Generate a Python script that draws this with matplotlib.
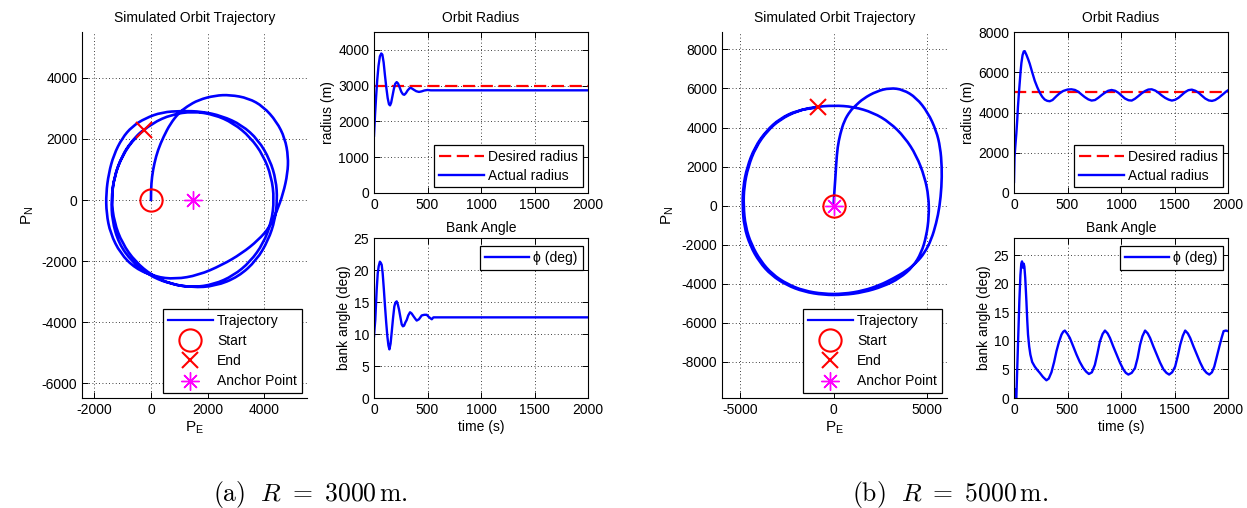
import matplotlib
matplotlib.use("Agg")
import matplotlib.pyplot as plt
from matplotlib.path import Path
from matplotlib.patches import PathPatch

plt.rcParams['font.family'] = ['Liberation Sans', 'DejaVu Sans']
plt.rcParams['font.size'] = 10
plt.rcParams['mathtext.fontset'] = 'cm'
plt.rcParams['axes.unicode_minus'] = False

BLUE = '#0000ff'
RED = '#ff0000'
MAGENTA = '#ff00ff'

# ---- case (a): R = 3000 m ----
traj_a_e = [0, 0, 35, 118, 247, 447, 682, 976, 1270, 1682, 2270, 2799, 3446, 3975,
            4445, 4739, 4857, 4833, 4680, 4445, 4210, 3798, 3210, 2505, 1682, 858,
            153, -553, -1082, -1435, -1576, -1588, -1494, -1317, -1023, -670, -200,
            388, 1094, 1799, 2505, 3210, 3798, 4210, 4422, 4469, 4386, 4151, 3740,
            3093, 2270, 1446, 623, -82, -670, -1141, -1376, -1400, -1302, -1014,
            -556, 40, 735, 1480, 2225, 2920, 3516, 3974, 4262, 4360, 4262, 3974,
            3516, 2920, 2225, 1480, 735, 40, -556, -1014, -1302, -1400, -1302,
            -1014, -726, -371, -250]
traj_a_n = [0, 328, 765, 1202, 1640, 2077, 2492, 2842, 3060, 3279, 3421, 3443, 3334,
            3060, 2569, 2022, 1421, 874, 219, -383, -874, -1312, -1749, -2131, -2459,
            -2590, -2514, -2241, -1749, -1093, -437, 219, 874, 1476, 2022, 2405, 2678,
            2875, 2918, 2897, 2754, 2459, 1967, 1312, 656, 0, -656, -1312, -1967,
            -2514, -2820, -2864, -2733, -2459, -2022, -1421, -656, 20, 765, 1460,
            2056, 2514, 2802, 2900, 2802, 2514, 2056, 1460, 765, 20, -725, -1420,
            -2016, -2474, -2762, -2860, -2762, -2474, -2016, -1420, -725, 20, 765,
            1460, 1871, 2226, 2280]
anchor_a = (1500, 0)

rad_a_t = [0, 10, 20, 30, 42, 55, 68, 78, 90, 102, 115, 128, 140, 150, 160, 172,
           185, 198, 212, 225, 240, 255, 270, 283, 298, 315, 335, 350, 370, 395,
           420, 445, 470, 500, 530, 2000]
rad_a_r = [1600, 2200, 2700, 3150, 3550, 3820, 3900, 3870, 3650, 3300, 2950, 2650,
           2480, 2450, 2520, 2700, 2900, 3050, 3100, 3060, 2950, 2830, 2760, 2745,
           2790, 2870, 2935, 2930, 2890, 2845, 2825, 2840, 2865, 2880, 2870, 2870]
rad_a_des = 3000

bank_a_t = [0, 6, 12, 25, 35, 44, 55, 64, 72, 81, 92, 103, 114, 125, 135, 144, 155,
            165, 178, 190, 200, 212, 223, 234, 247, 259, 270, 281, 293, 306, 320,
            337, 352, 368, 385, 399, 420, 446, 470, 493, 510, 524, 540, 555, 2000]
bank_a_phi = [9.6, 11, 12.2, 16.9, 19.5, 20.6, 21.3, 21.1, 20.8, 19.5, 17, 14.3,
              11.8, 9.6, 8.2, 7.6, 8.5, 10.2, 12.5, 14.3, 14.9, 15.1, 14.6, 13.8,
              12.6, 11.5, 11.2, 11.3, 11.8, 12.2, 12.9, 13.4, 13.2, 12.8, 12.4,
              12.1, 12.3, 12.9, 13.0, 13.0, 12.7, 12.5, 12.3, 12.6, 12.6]

# ---- case (b): R = 5000 m ----
traj_b_e = [0, 35, 88, 141, 212, 353, 565, 884, 1149, 1590, 2297, 3004, 3711, 4418,
            5036, 5478, 5690, 5778, 5760, 5654, 5478, 5213, 4859, 4418, 3887, 3181,
            2474, 1590, 530, -530, -1590, -2474, -3269, -3887, -4382, -4700, -4806,
            -4771, -4559, -4152, -3534, -2827, -1944, -1060, 0, 1060, 2120, 3004,
            3799, 4418, 4859, 5071, 5089, 4948, 4682, 4241, 3534, 2651, 1590, 530,
            -530, -1590, -2509, -3322, -3958, -4453, -4771, -4859, -4824, -4612,
            -4205, -3587, -2863, -1944, -848]
traj_b_n = [0, 625, 1300, 2144, 2988, 3663, 4338, 4845, 5098, 5486, 5857, 6026, 5942,
            5520, 4760, 3832, 2988, 1975, 962, -51, -895, -1739, -2414, -2920, -3342,
            -3730, -4068, -4355, -4524, -4524, -4355, -4017, -3511, -2836, -1992,
            -1063, 0, 962, 1975, 2988, 3832, 4423, 4845, 5047, 5132, 5064, 4760,
            4254, 3494, 2566, 1469, 456, -557, -1570, -2414, -3123, -3714, -4136,
            -4439, -4575, -4575, -4406, -4068, -3562, -2886, -2042, -1063, 0, 962,
            1975, 2988, 3832, 4456, 4878, 5030]
anchor_b = (0, 0)

rad_b_t = [0, 5, 12, 18, 22, 30, 37, 45, 53, 61, 69, 80, 91, 100, 116, 132, 147,
           170, 194, 218, 241, 264, 287, 310, 334, 360, 397, 428, 459, 500, 537,
           570, 600, 630, 662, 695, 725, 757, 787, 820, 850, 880, 912, 945, 975,
           1005, 1037, 1070, 1100, 1130, 1162, 1195, 1225, 1255, 1287, 1320, 1350,
           1380, 1412, 1445, 1475, 1505, 1537, 1570, 1600, 1630, 1662, 1695, 1725,
           1755, 1787, 1820, 1850, 1880, 1912, 1940, 1959, 1980, 2000]
rad_b_r = [549, 1800, 2295, 2700, 2960, 3600, 4290, 4900, 5455, 6000, 6452, 6850,
           7034, 7050, 6868, 6650, 6424, 6000, 5576, 5250, 4983, 4780, 4644, 4580,
           4559, 4620, 4814, 4960, 5068, 5140, 5153, 5120, 5034, 4900, 4763, 4650,
           4593, 4620, 4729, 4870, 4983, 5080, 5119, 5080, 4983, 4840, 4695, 4610,
           4593, 4680, 4814, 4960, 5068, 5140, 5153, 5090, 4983, 4850, 4729, 4640,
           4593, 4630, 4729, 4880, 5017, 5110, 5136, 5080, 4983, 4840, 4695, 4600,
           4576, 4620, 4729, 4850, 4932, 5030, 5102]
rad_b_des = 5000

bank_b_t = [0, 4, 8, 12, 16, 22, 30, 40, 50, 60, 68, 75, 80, 85, 91, 97, 105, 116,
            124, 131, 142, 153, 170, 194, 218, 241, 270, 303, 325, 350, 375, 397,
            420, 444, 460, 475, 500, 522, 550, 584, 615, 647, 675, 700, 728, 756,
            780, 803, 828, 850, 875, 897, 928, 959, 990, 1022, 1045, 1069, 1100,
            1131, 1155, 1178, 1200, 1225, 1250, 1272, 1303, 1334, 1365, 1397, 1425,
            1450, 1478, 1506, 1530, 1553, 1578, 1600, 1625, 1647, 1678, 1709, 1740,
            1772, 1800, 1825, 1850, 1872, 1895, 1919, 1940, 1959, 1980, 2000]
bank_b_phi = [0, 1.6, 0.8, 0.2, 0, 0, 5, 11, 17, 21.5, 23.5, 23.9, 23.3, 22.8, 23.5,
              23.0, 21, 16.9, 13.5, 11.1, 9, 7.6, 6.3, 5.5, 4.9, 4.4, 3.7, 3.1, 3.4,
              4.5, 6.3, 8.2, 9.8, 11.1, 11.6, 11.8, 11.2, 10.5, 9.2, 7.6, 6.3, 5.25,
              4.6, 4.2, 4.5, 5.8, 7.8, 9.9, 11.2, 11.8, 11.3, 10.5, 9.0, 7.6, 6.2,
              5.0, 4.4, 4.1, 4.4, 5.25, 7.0, 9.3, 10.8, 11.8, 11.3, 10.5, 9.0, 7.6,
              6.2, 5.0, 4.4, 4.1, 4.5, 5.5, 7.3, 9.3, 10.9, 11.8, 11.3, 10.5, 9.0,
              7.6, 6.2, 5.0, 4.4, 4.1, 4.5, 5.5, 7.2, 9.0, 10.5, 11.7, 11.8, 11.7]

W, H = 1247, 508


def px_axes(fig, left, right, top, bottom):
    # axes placed by pixel edges
    return fig.add_axes([left / W, 1 - bottom / H, (right - left) / W, (bottom - top) / H])


def smooth_path(xs, ys):
    # quadratic bezier through the waypoints (waypoints act as control points)
    pts = list(zip(xs, ys))
    verts = [pts[0]]
    codes = [Path.MOVETO]
    for i in range(1, len(pts) - 1):
        mid = ((pts[i][0] + pts[i + 1][0]) / 2, (pts[i][1] + pts[i + 1][1]) / 2)
        verts += [pts[i], mid]
        codes += [Path.CURVE3, Path.CURVE3]
    verts.append(pts[-1])
    codes.append(Path.LINETO)
    return Path(verts, codes)


def matlab_style(ax, box=True):
    ax.grid(True, color='black', linestyle=(0, (1, 3)), linewidth=0.6)
    ax.set_axisbelow(True)
    ax.tick_params(direction='in', length=4, width=0.7, top=box, right=box, labelsize=10)
    for side in ['left', 'bottom', 'top', 'right']:
        ax.spines[side].set_linewidth(0.8)
    if not box:
        ax.spines['top'].set_visible(False)
        ax.spines['right'].set_visible(False)


def legend_box(ax, **kw):
    leg = ax.legend(fontsize=10, fancybox=False, framealpha=1, edgecolor='black',
                    borderaxespad=0, handlelength=3.2, handletextpad=0.3,
                    borderpad=0.35, **kw)
    leg.get_frame().set_linewidth(0.9)
    return leg


def draw_case(fig, x0, tr_e, tr_n, anchor, xlim, ylim, xticks, yticks,
              rt, rr, rdes, rylim, rticks, bt, bphi, bylim, bticks, caption):
    # trajectory
    ax = px_axes(fig, x0 + 82, x0 + 307, 32, 398)
    matlab_style(ax, box=False)
    ax.add_patch(PathPatch(smooth_path(tr_e, tr_n), fill=False, edgecolor=BLUE,
                           lw=1.9, joinstyle='round', capstyle='round'))
    ax.plot([], [], color=BLUE, lw=1.6, label='Trajectory')
    ax.plot(tr_e[0], tr_n[0], 'o', mfc='none', mec=RED, mew=1.5, ms=16, label='Start')
    ax.plot(tr_e[-1], tr_n[-1], 'x', color=RED, mew=1.5, ms=12, label='End')
    ax.plot(anchor[0], anchor[1], marker=(8, 2, 0), color=MAGENTA, mew=1.0, ms=13,
            ls='none', label='Anchor Point')
    ax.set_xlim(xlim)
    ax.set_ylim(ylim)
    ax.set_xticks(xticks)
    ax.set_yticks(yticks)
    ax.set_title('Simulated Orbit Trajectory', fontsize=10, pad=7)
    ax.set_xlabel(r'$\mathregular{P_E}$', fontsize=11, labelpad=2)
    ax.set_ylabel(r'$\mathregular{P_N}$', fontsize=11, labelpad=4)
    legend_box(ax, loc='lower right', bbox_to_anchor=(0.976, 0.013), numpoints=1,
               labelspacing=0.45)

    # orbit radius
    ax = px_axes(fig, x0 + 374, x0 + 588, 32, 193)
    matlab_style(ax)
    ax.axhline(rdes, color=RED, lw=1.6, ls=(0, (5.5, 2.5)), label='Desired radius')
    ax.plot(rt, rr, color=BLUE, lw=1.7, label='Actual radius')
    ax.set_xlim(0, 2000)
    ax.set_ylim(rylim)
    ax.set_xticks([0, 500, 1000, 1500, 2000])
    ax.set_yticks(rticks)
    ax.set_title('Orbit Radius', fontsize=10, pad=7)
    ax.set_ylabel('radius (m)', fontsize=10, labelpad=2)
    legend_box(ax, loc='lower right', bbox_to_anchor=(0.975, 0.035), labelspacing=0.3)

    # bank angle
    ax = px_axes(fig, x0 + 374, x0 + 588, 238, 398)
    matlab_style(ax)
    ax.plot(bt, bphi, color=BLUE, lw=1.7, label='ϕ (deg)')
    ax.set_xlim(0, 2000)
    ax.set_ylim(bylim)
    ax.set_xticks([0, 500, 1000, 1500, 2000])
    ax.set_yticks(bticks)
    ax.set_title('Bank Angle', fontsize=10, pad=4)
    ax.set_xlabel('time (s)', fontsize=10, labelpad=2)
    ax.set_ylabel('bank angle (deg)', fontsize=10, labelpad=2)
    legend_box(ax, loc='upper right', bbox_to_anchor=(0.975, 0.95))

    fig.text((x0 + 310) / W, 1 - 501 / H, caption, ha='center', va='baseline', fontsize=18.5)


fig = plt.figure(figsize=(W / 100, H / 100), dpi=100)

draw_case(fig, 0, traj_a_e, traj_a_n, anchor_a, (-2440, 5520), (-6480, 5500),
          [-2000, 0, 2000, 4000], [-6000, -4000, -2000, 0, 2000, 4000],
          rad_a_t, rad_a_r, rad_a_des, (0, 4500), [0, 1000, 2000, 3000, 4000],
          bank_a_t, bank_a_phi, (0, 25), [0, 5, 10, 15, 20, 25],
          r'$\mathrm{(a)}\ \ R\ =\ 3000\,\mathrm{m.}$')

draw_case(fig, 640, traj_b_e, traj_b_n, anchor_b, (-5950, 6050), (-9850, 8890),
          [-5000, 0, 5000], [-8000, -6000, -4000, -2000, 0, 2000, 4000, 6000, 8000],
          rad_b_t, rad_b_r, rad_b_des, (0, 8000), [0, 2000, 4000, 6000, 8000],
          bank_b_t, bank_b_phi, (0, 28), [0, 5, 10, 15, 20, 25],
          r'$\mathrm{(b)}\ \ R\ =\ 5000\,\mathrm{m.}$')

fig.savefig('out.png', dpi=100)
